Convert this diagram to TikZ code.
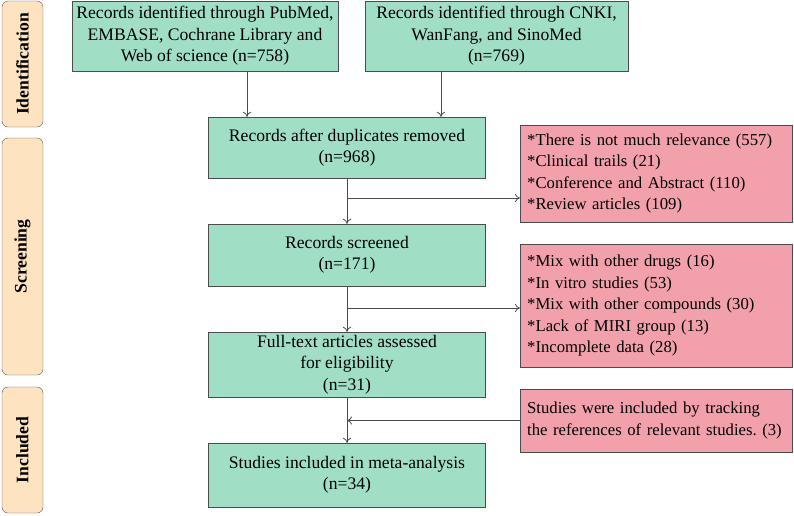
\documentclass[tikz,border=0pt]{standalone}
\usepackage{fontspec}
\setmainfont{Liberation Serif}
\usetikzlibrary{arrows.meta}

\definecolor{recordcol}{RGB}{160,223,198}
\definecolor{excludecol}{RGB}{242,161,172}
\definecolor{stagecol}{RGB}{253,227,192}

\begin{document}
\begin{tikzpicture}[
    x=1pt, y=-1pt,
    >={To[length=5pt,width=8pt]},
    every node/.style={font=\fontsize{17.6}{21.5}\selectfont},
    stage/.style={
        draw=black!65, rounded corners=6pt, fill=stagecol,
        rotate=90, minimum height=41pt, inner sep=0pt,
        font=\fontsize{17.6}{21.5}\selectfont\bfseries
    },
    record/.style={
        draw=black!70, fill=recordcol,
        align=center, inner sep=1pt
    },
    exclude/.style={
        draw=black!70, fill=excludecol,
        font=\fontsize{16.7}{21.5}\selectfont,
        text width=258pt, align=left, inner xsep=7pt, inner ysep=2pt,
        anchor=west
    },
    link/.style={->, draw=black!70, line width=0.8pt}
]

\useasboundingbox (0,0) rectangle (794,515);

% Stage labels on the left
\node[stage, minimum width=126pt] (s1) at (22.5,64)    {Identification};
\node[stage, minimum width=237pt] (s2) at (22.5,256.5) {Screening};
\node[stage, minimum width=126pt] (s3) at (22.5,450)   {Included};

% Main column of records
\node[record, minimum width=266pt, minimum height=70pt] (idA) at (205,36)
    {Records identified through PubMed,\\EMBASE, Cochrane Library and\\Web of science (n=758)};
\node[record, minimum width=263pt, minimum height=70pt] (idB) at (496.5,36)
    {Records identified through CNKI,\\WanFang, and SinoMed\\(n=769)};
\node[record, minimum width=277pt, minimum height=61pt] (dup) at (347,147.5)
    {Records after duplicates removed\\(n=968)};
\node[record, minimum width=277pt, minimum height=62pt] (scr) at (347,255)
    {Records screened\\(n=171)};
\node[record, minimum width=277pt, minimum height=65pt] (ful) at (347,364.5)
    {Full-text articles assessed\\for eligibility\\(n=31)};
\node[record, minimum width=277pt, minimum height=64pt] (inc) at (347,475)
    {Studies included in meta-analysis\\(n=34)};

% Excluded / added records on the right
\node[exclude, minimum height=97pt] (ex1) at (520,173.5)
    {*There is not much relevance (557)\\{}*Clinical trails (21)\\{}*Conference and Abstract (110)\\{}*Review articles (109)};
\node[exclude, minimum height=123pt] (ex2) at (520,305.5)
    {*Mix with other drugs (16)\\{}*In vitro studies (53)\\{}*Mix with other compounds (30)\\{}*Lack of MIRI group (13)\\{}*Incomplete data (28)};
\node[exclude, minimum height=63pt] (ex3) at (520,420.5)
    {Studies were included by tracking\\the references of relevant studies.\ (3)};

% Branch points on the main column
\coordinate (colA) at (247,0);
\coordinate (colB) at (441,0);
\coordinate (b1) at (347,198);
\coordinate (b2) at (347,308);

% Connectors
\draw[link] (idA.south -| colA) -- (dup.north -| colA);
\draw[link] (idB.south -| colB) -- (dup.north -| colB);
\draw[link] (dup) -- (scr);
\draw[link] (b1) -- (b1 -| ex1.west);
\draw[link] (scr) -- (ful);
\draw[link] (b2) -- (b2 -| ex2.west);
\draw[link] (ful) -- (inc);
\draw[link] (ex3.west) -- (ex3.west -| ful.south);

\end{tikzpicture}
\end{document}
